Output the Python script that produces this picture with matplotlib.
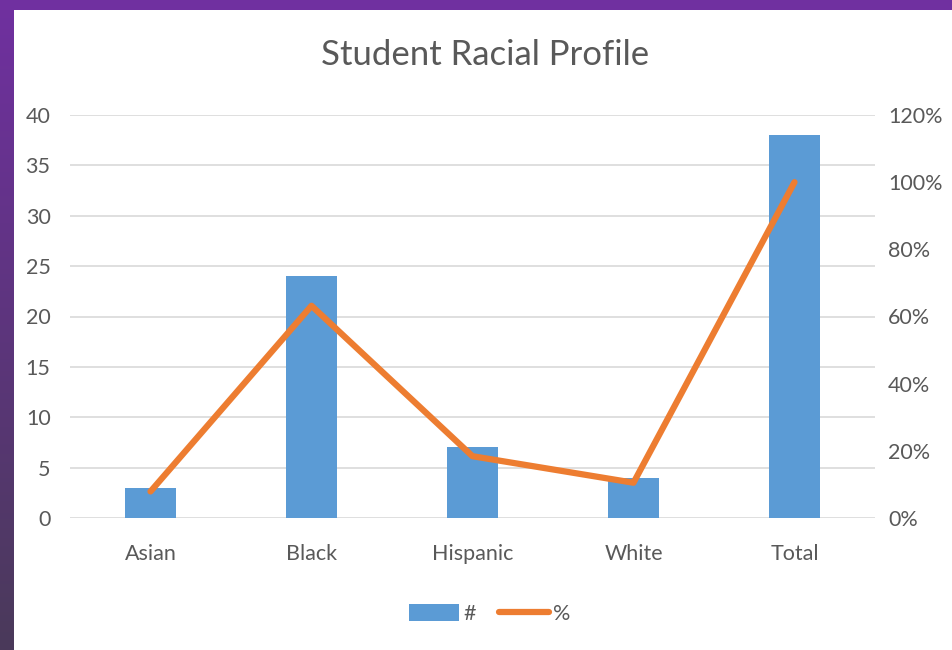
import matplotlib
matplotlib.use("Agg")
import matplotlib.pyplot as plt
import numpy as np
from matplotlib.patches import Rectangle
from matplotlib.lines import Line2D
from matplotlib.patches import Patch
from matplotlib.ticker import FuncFormatter

categories = ["Asian", "Black", "Hispanic", "White", "Total"]
counts = [3, 24, 7, 4, 38]
percents = [7.9, 63.2, 18.4, 10.5, 100.0]
left_ticks = [0, 5, 10, 15, 20, 25, 30, 35, 40]
right_ticks = [0, 20, 40, 60, 80, 100, 120]

plt.rcParams['font.family'] = ['Lato', 'DejaVu Sans']
W, H = 953, 650
fig = plt.figure(figsize=(W/100, H/100), dpi=100)

# background frame
bg = fig.add_axes([0, 0, 1, 1])
bg.set_axis_off()
grad = np.linspace(0, 1, 256)[:, None]
top = np.array([0x70, 0x30, 0xA0]) / 255
bot = np.array([0x4A, 0x3A, 0x5A]) / 255
img = top[None, None, :] * (1 - grad[:, :, None]) + bot[None, None, :] * grad[:, :, None]
bg.imshow(img, aspect='auto', extent=[0, 1, 0, 1], origin='upper')
bg.add_patch(Rectangle((0, 1 - 10/H), 1, 10/H, color='#7030A0', lw=0))
bg.add_patch(Rectangle((14/W, 0), 1 - 14/W, 1 - 10/H, color='white', lw=0))
bg.set_xlim(0, 1); bg.set_ylim(0, 1)

gray = '#595959'
x0, x1 = 70, 875
y0, y1 = 518, 115
ax = fig.add_axes([x0/W, 1 - y0/H, (x1-x0)/W, (y0-y1)/H])
ax.patch.set_alpha(0)
x = np.arange(len(categories))
ax.bar(x, counts, width=0.32, color='#5B9BD5', zorder=2)
ax.set_xlim(-0.5, len(categories) - 0.5)
ax.set_ylim(0, 40)
ax.set_yticks(left_ticks)
ax.set_xticks(x)
ax.set_xticklabels(categories)
ax.grid(axis='y', color='#D9D9D9', lw=1.2, zorder=0)
for s in ax.spines.values():
    s.set_visible(False)
ax.tick_params(axis='both', length=0, colors=gray, labelsize=15.5)
ax.tick_params(axis='y', pad=14)
ax.tick_params(axis='x', pad=19)

ax2 = ax.twinx()
ax2.plot(x, percents, color='#ED7D31', lw=4.5, solid_capstyle='round', solid_joinstyle='round', zorder=3)
ax2.set_ylim(0, 120)
ax2.set_yticks(right_ticks)
ax2.yaxis.set_major_formatter(FuncFormatter(lambda v, p: f"{int(v)}%"))
for s in ax2.spines.values():
    s.set_visible(False)
ax2.tick_params(axis='y', length=0, colors=gray, labelsize=15.5, pad=9.5)

fig.text(485/W, 1 - 55/H, "Student Racial Profile", ha='center', va='center', fontsize=25, color=gray)

handles = [Patch(facecolor='#5B9BD5', edgecolor='none'),
           Line2D([0], [0], color='#ED7D31', lw=4.5, solid_capstyle='round')]
leg = fig.legend(handles, ['#', '%'], loc='center', bbox_to_anchor=(490/W, 1 - 614/H),
                 ncol=2, frameon=False, fontsize=15.5, handlelength=2.3, handleheight=0.8,
                 handletextpad=0.2, columnspacing=1.1, labelcolor=gray)

fig.savefig("out.png", dpi=100)
